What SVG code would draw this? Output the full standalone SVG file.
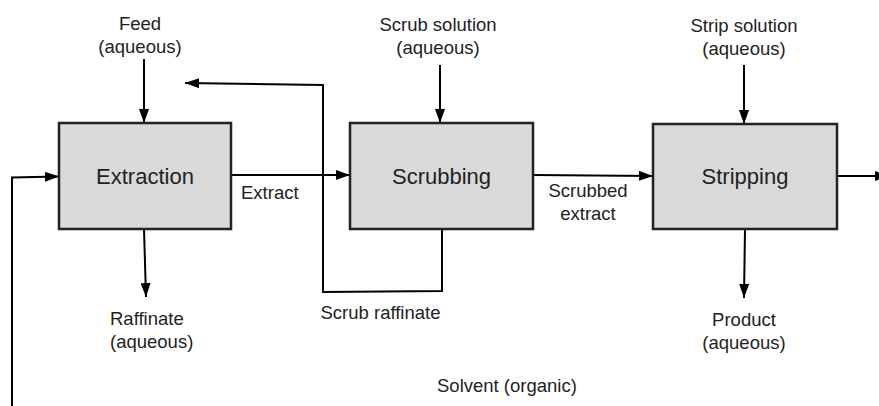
<svg xmlns="http://www.w3.org/2000/svg" width="879" height="406" viewBox="0 0 879 406">
<defs>
<marker id="ah" markerWidth="14" markerHeight="10" refX="14" refY="5" orient="auto" markerUnits="userSpaceOnUse">
<path d="M0,0 L14,5 L0,10 Z" fill="#000"/>
</marker>
<style>
.box{fill:#d9d9d9;stroke:#222;stroke-width:2.5}
.ln{fill:none;stroke:#000;stroke-width:2}
.lbl{font-family:"Liberation Sans",Arial,sans-serif;font-size:22px;fill:#222;text-anchor:middle}
.t{font-family:"Liberation Sans",Arial,sans-serif;font-size:18.5px;fill:#222}
.c{text-anchor:middle}
</style>
</defs>
<rect width="879" height="406" fill="#fff"/>
<g id="connectors">
<line class="ln" x1="144" y1="59" x2="144" y2="123" marker-end="url(#ah)"/>
<line class="ln" x1="440" y1="65" x2="440" y2="123" marker-end="url(#ah)"/>
<line class="ln" x1="744" y1="65" x2="744" y2="124" marker-end="url(#ah)"/>
<line class="ln" x1="231" y1="175" x2="350" y2="175" marker-end="url(#ah)"/>
<line class="ln" x1="533" y1="175" x2="653" y2="176" marker-end="url(#ah)"/>
<line class="ln" x1="837" y1="176" x2="889" y2="176" marker-end="url(#ah)"/>
<polyline class="ln" points="442,229 442,291 323,292 323,85 185,83" marker-end="url(#ah)"/>
<polyline class="ln" points="12,406 12,177.5 59,176.5" marker-end="url(#ah)"/>
<line class="ln" x1="144" y1="229" x2="146" y2="297" marker-end="url(#ah)"/>
<line class="ln" x1="745" y1="229" x2="744" y2="298" marker-end="url(#ah)"/>
</g>
<g id="extraction">
<rect class="box" x="59" y="123" width="172" height="106"/>
<text class="lbl" x="145" y="184">Extraction</text>
</g>
<g id="scrubbing">
<rect class="box" x="350" y="123" width="183" height="106"/>
<text class="lbl" x="441.5" y="184">Scrubbing</text>
</g>
<g id="stripping">
<rect class="box" x="653" y="124" width="184" height="105"/>
<text class="lbl" x="745" y="184">Stripping</text>
</g>
<g id="feed">
<text class="t c" x="140" y="30">Feed</text>
<text class="t c" x="140" y="53">(aqueous)</text>
</g>
<g id="scrub-solution">
<text class="t c" x="438" y="30.5">Scrub solution</text>
<text class="t c" x="438" y="53.5">(aqueous)</text>
</g>
<g id="strip-solution">
<text class="t c" x="744" y="32">Strip solution</text>
<text class="t c" x="744" y="55">(aqueous)</text>
</g>
<g id="extract-label">
<text class="t" x="241" y="199">Extract</text>
</g>
<g id="scrubbed-extract">
<text class="t c" x="588" y="197">Scrubbed</text>
<text class="t c" x="588" y="220">extract</text>
</g>
<g id="raffinate">
<text class="t" x="110" y="325">Raffinate</text>
<text class="t" x="110" y="348">(aqueous)</text>
</g>
<g id="scrub-raffinate">
<text class="t" x="320.5" y="319">Scrub raffinate</text>
</g>
<g id="product">
<text class="t c" x="744" y="326">Product</text>
<text class="t c" x="744" y="349">(aqueous)</text>
</g>
<g id="solvent">
<text class="t" x="437" y="392">Solvent (organic)</text>
</g>
</svg>
